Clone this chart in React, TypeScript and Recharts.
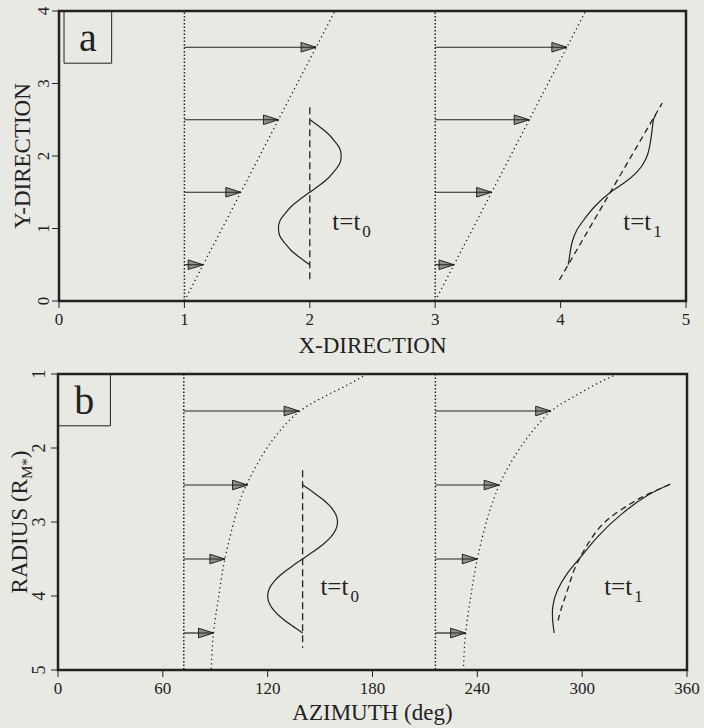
import React from 'react';
import { ScatterChart, Scatter, XAxis, YAxis, ReferenceArea } from 'recharts';

const INK = '#222222';
const BG = '#e9e9e4';
const FONT = "'Liberation Serif', 'Times New Roman', 'DejaVu Serif', serif";

// ---------- Panel a ----------
const aXTicks = [0, 1, 2, 3, 4, 5];
const aYTicks = [0, 1, 2, 3, 4];
const aArrowY = [0.5, 1.5, 2.5, 3.5];
const aArrowBase1 = 1;
const aArrowTips1 = [1.15, 1.45, 1.75, 2.05];
const aArrowBase2 = 3;
const aArrowTips2 = [3.15, 3.45, 3.75, 4.05];
const aVert1 = [{ x: 1, y: 0 }, { x: 1, y: 4 }];
const aVert2 = [{ x: 3, y: 0 }, { x: 3, y: 4 }];
const aFront1 = [{ x: 1, y: 0 }, { x: 2.2, y: 4 }];
const aFront2 = [{ x: 3, y: 0 }, { x: 4.2, y: 4 }];
const aT0Dashed = [{ x: 2, y: 0.3 }, { x: 2, y: 2.7 }];
const aT0Solid = [
  { x: 2.0, y: 0.5 }, { x: 1.92, y: 0.6 }, { x: 1.85, y: 0.7 }, { x: 1.8, y: 0.8 },
  { x: 1.76, y: 0.9 }, { x: 1.75, y: 1.0 }, { x: 1.76, y: 1.1 }, { x: 1.8, y: 1.2 },
  { x: 1.85, y: 1.3 }, { x: 1.92, y: 1.4 }, { x: 2.0, y: 1.5 }, { x: 2.08, y: 1.6 },
  { x: 2.15, y: 1.7 }, { x: 2.2, y: 1.8 }, { x: 2.24, y: 1.9 }, { x: 2.25, y: 2.0 },
  { x: 2.24, y: 2.1 }, { x: 2.2, y: 2.2 }, { x: 2.15, y: 2.3 }, { x: 2.08, y: 2.4 },
  { x: 2.0, y: 2.5 },
];
const aT1Dashed = [{ x: 3.99, y: 0.29 }, { x: 4.81, y: 2.73 }];
const aT1Solid = [
  { x: 4.06, y: 0.5 }, { x: 4.07, y: 0.6 }, { x: 4.09, y: 0.8 }, { x: 4.13, y: 0.98 },
  { x: 4.19, y: 1.13 }, { x: 4.27, y: 1.3 }, { x: 4.39, y: 1.49 }, { x: 4.5, y: 1.62 },
  { x: 4.61, y: 1.78 }, { x: 4.68, y: 1.96 }, { x: 4.71, y: 2.13 }, { x: 4.73, y: 2.36 },
  { x: 4.74, y: 2.5 }, { x: 4.76, y: 2.57 },
];
const aLabels = [
  { x: 2.18, y: 0.98, sub: '0' },
  { x: 4.5, y: 0.98, sub: '1' },
];

// ---------- Panel b ----------
const bXTicks = [0, 60, 120, 180, 240, 300, 360];
const bYTicks = [1, 2, 3, 4, 5];
const bArrowR = [1.5, 2.5, 3.5, 4.5];
const bArrowBase1 = 72;
const bArrowTips1 = [138, 108.5, 95.5, 89];
const bArrowBase2 = 216;
const bArrowTips2 = [282, 252.5, 240, 233.3];
const bVert1 = [{ x: 72, y: 1 }, { x: 72, y: 5 }];
const bVert2 = [{ x: 216, y: 1 }, { x: 216, y: 5 }];
const bFront1 = [
  { x: 176.8, y: 1.0 }, { x: 165.5, y: 1.15 }, { x: 152.1, y: 1.31 }, { x: 138.5, y: 1.5 },
  { x: 127.3, y: 1.76 }, { x: 117.7, y: 2.07 }, { x: 108.8, y: 2.45 }, { x: 104.3, y: 2.7 },
  { x: 101.2, y: 2.95 }, { x: 95.5, y: 3.5 }, { x: 92, y: 4.0 }, { x: 89, y: 4.5 },
  { x: 87.7, y: 5.0 },
];
const bFront2 = [
  { x: 320.2, y: 1.0 }, { x: 306.9, y: 1.15 }, { x: 293.5, y: 1.33 }, { x: 282.2, y: 1.5 },
  { x: 272.0, y: 1.76 }, { x: 262.5, y: 2.07 }, { x: 253.5, y: 2.45 }, { x: 248.5, y: 2.75 },
  { x: 245.5, y: 2.97 }, { x: 240, y: 3.5 }, { x: 236.3, y: 4.0 }, { x: 233.3, y: 4.5 },
  { x: 232, y: 5.0 },
];
const bT0Dashed = [{ x: 140, y: 2.3 }, { x: 140, y: 4.7 }];
const bT0Solid = [
  { x: 140, y: 2.5 }, { x: 146.2, y: 2.6 }, { x: 151.8, y: 2.7 }, { x: 156.2, y: 2.8 },
  { x: 159.0, y: 2.9 }, { x: 160, y: 3.0 }, { x: 159.0, y: 3.1 }, { x: 156.2, y: 3.2 },
  { x: 151.8, y: 3.3 }, { x: 146.2, y: 3.4 }, { x: 140, y: 3.5 }, { x: 133.8, y: 3.6 },
  { x: 128.2, y: 3.7 }, { x: 123.8, y: 3.8 }, { x: 121.0, y: 3.9 }, { x: 120, y: 4.0 },
  { x: 121.0, y: 4.1 }, { x: 123.8, y: 4.2 }, { x: 128.2, y: 4.3 }, { x: 133.8, y: 4.4 },
  { x: 140, y: 4.5 },
];
const bT1Solid = [
  { x: 350.4, y: 2.49 }, { x: 337.5, y: 2.64 }, { x: 322.2, y: 2.9 }, { x: 308.8, y: 3.2 },
  { x: 299.2, y: 3.47 }, { x: 291.6, y: 3.69 }, { x: 285.9, y: 3.92 }, { x: 283.2, y: 4.14 },
  { x: 283.2, y: 4.35 }, { x: 284, y: 4.5 },
];
const bT1Dashed = [
  { x: 350.4, y: 2.49 }, { x: 338, y: 2.62 }, { x: 327.9, y: 2.75 }, { x: 314.5, y: 2.97 },
  { x: 305.9, y: 3.2 }, { x: 300.2, y: 3.42 }, { x: 295.4, y: 3.65 }, { x: 291.6, y: 3.92 },
  { x: 287.8, y: 4.19 }, { x: 285.9, y: 4.37 },
];
const bLabels = [
  { x: 150.2, y: 3.99, sub: '0' },
  { x: 312.6, y: 3.99, sub: '1' },
];

// ---------- helpers ----------
const shafts = (ys: number[], base: number, tips: number[]) =>
  ys.map((y, i) => [{ x: base, y }, { x: tips[i], y }]);
const heads = (ys: number[], tips: number[]) => ys.map((y, i) => ({ x: tips[i], y }));

const Empty = () => <g />;

const ArrowHead = (props: any) => {
  const { cx, cy } = props;
  if (cx == null || cy == null) return <g />;
  const L = 15;
  const H = 4.8;
  return (
    <g>
      <polygon
        points={`${cx},${cy} ${cx - L},${cy - H} ${cx - L},${cy + H}`}
        fill="#8f8f8c"
        stroke={INK}
        strokeWidth={1}
      />
      <line x1={cx - L} y1={cy} x2={cx} y2={cy} stroke={INK} strokeWidth={1} />
    </g>
  );
};

const TLabel = (props: any) => {
  const { cx, cy, payload } = props;
  if (cx == null || cy == null) return <g />;
  return (
    <text x={cx} y={cy} style={{ fontFamily: FONT }} fontSize={25} fill={INK}>
      t=t
      <tspan fontSize={17} dx={2} dy={7}>
        {payload ? payload.sub : ''}
      </tspan>
    </text>
  );
};

const makeRotTick = (dx: number, fs: number) => (props: any) => {
  const { x, y, payload } = props;
  const X = x + dx;
  return (
    <text
      x={X}
      y={y}
      transform={`rotate(-90 ${X} ${y})`}
      textAnchor="middle"
      style={{ fontFamily: FONT }}
      fontSize={fs}
      fill={INK}
    >
      {payload.value}
    </text>
  );
};

const dottedV = { stroke: INK, strokeWidth: 1.5, strokeDasharray: '1.4 2.1', fill: 'none' };
const dottedD = { stroke: INK, strokeWidth: 1.3, strokeDasharray: '1.3 3.2', fill: 'none' };
const solid = { stroke: INK, strokeWidth: 1.2, fill: 'none' };
const dashed = { stroke: INK, strokeWidth: 1.3, strokeDasharray: '7 4', fill: 'none' };

const lineSeries = (data: any[], style: any, key: string, joint: any = 'linear') => (
  <Scatter
    key={key}
    data={data}
    line={style}
    lineJointType={joint}
    shape={Empty}
    isAnimationActive={false}
  />
);

export default function App() {
  const aShafts = [...shafts(aArrowY, aArrowBase1, aArrowTips1), ...shafts(aArrowY, aArrowBase2, aArrowTips2)];
  const aHeads = [...heads(aArrowY, aArrowTips1), ...heads(aArrowY, aArrowTips2)];
  const bShafts = [...shafts(bArrowR, bArrowBase1, bArrowTips1), ...shafts(bArrowR, bArrowBase2, bArrowTips2)];
  const bHeads = [...heads(bArrowR, bArrowTips1), ...heads(bArrowR, bArrowTips2)];

  return (
    <div
      style={{
        position: 'absolute',
        left: 0,
        top: 0,
        width: 704,
        height: 728,
        background: BG,
        fontFamily: FONT,
      }}
    >
      <div style={{ position: 'absolute', left: 0, top: 0 }}>
        <ScatterChart width={704} height={360} margin={{ top: 11, right: 18, bottom: 0, left: 0 }}>
          <XAxis
            type="number"
            dataKey="x"
            domain={[0, 5]}
            ticks={aXTicks}
            height={59}
            axisLine={false}
            tickSize={7}
            tickMargin={5}
            tickLine={{ stroke: INK, strokeWidth: 1 }}
            tick={{ fill: INK, fontSize: 17, style: { fontFamily: FONT } }}
            label={{
              content: (p: any) => {
                const vb = p.viewBox || { x: 59, y: 301, width: 627 };
                return (
                  <text x={vb.x + vb.width / 2} y={vb.y + 52} textAnchor="middle" style={{ fontFamily: FONT }} fontSize={23} fill={INK}>
                    X-DIRECTION
                  </text>
                );
              },
            }}
          />
          <YAxis
            type="number"
            dataKey="y"
            domain={[0, 4]}
            ticks={aYTicks}
            width={59}
            axisLine={false}
            tickSize={7}
            tickMargin={3}
            tickLine={{ stroke: INK, strokeWidth: 1 }}
            tick={makeRotTick(0, 17)}
            label={{
              content: (p: any) => {
                const vb = p.viewBox || { x: 0, y: 11, height: 290 };
                const cy = vb.y + vb.height / 2;
                return (
                  <text x={30} y={cy} transform={`rotate(-90 30 ${cy})`} textAnchor="middle" style={{ fontFamily: FONT }} fontSize={23} fill={INK}>
                    Y-DIRECTION
                  </text>
                );
              },
            }}
          />
          {lineSeries(aVert1, dottedV, 'av1')}
          {lineSeries(aVert2, dottedV, 'av2')}
          {lineSeries(aFront1, dottedD, 'af1')}
          {lineSeries(aFront2, dottedD, 'af2')}
          {aShafts.map((s, i) => lineSeries(s, solid, 'as' + i))}
          <Scatter data={aHeads} shape={ArrowHead} isAnimationActive={false} />
          {lineSeries(aT0Dashed, dashed, 'at0d')}
          {lineSeries(aT0Solid, solid, 'at0s', 'natural')}
          {lineSeries(aT1Dashed, { ...dashed, strokeDasharray: '6 4' }, 'at1d')}
          {lineSeries(aT1Solid, solid, 'at1s', 'natural')}
          <Scatter data={aLabels} shape={TLabel} isAnimationActive={false} />
          <ReferenceArea
            x1={0.04}
            x2={0.42}
            y1={3.28}
            y2={4}
            fill="none"
            stroke={INK}
            strokeWidth={1}
            label={{ value: 'a', position: 'center', fontSize: 40, fill: INK, style: { fontFamily: FONT } }}
          />
          <ReferenceArea x1={0} x2={5} y1={0} y2={4} fill="none" stroke={INK} strokeWidth={2.5} />
        </ScatterChart>
      </div>

      <div style={{ position: 'absolute', left: 0, top: 363 }}>
        <ScatterChart width={704} height={365} margin={{ top: 11, right: 17, bottom: 0, left: 0 }}>
          <XAxis
            type="number"
            dataKey="x"
            domain={[0, 360]}
            ticks={bXTicks}
            height={58}
            axisLine={false}
            tickSize={7}
            tickMargin={5}
            tickLine={{ stroke: INK, strokeWidth: 1 }}
            tick={{ fill: INK, fontSize: 17, style: { fontFamily: FONT } }}
            label={{
              content: (p: any) => {
                const vb = p.viewBox || { x: 58, y: 670, width: 629 };
                return (
                  <text x={vb.x + vb.width / 2} y={vb.y + 50} textAnchor="middle" style={{ fontFamily: FONT }} fontSize={23} fill={INK}>
                    AZIMUTH (deg)
                  </text>
                );
              },
            }}
          />
          <YAxis
            type="number"
            dataKey="y"
            domain={[1, 5]}
            ticks={bYTicks}
            reversed
            width={58}
            axisLine={false}
            tickSize={7}
            tickMargin={6}
            tickLine={{ stroke: INK, strokeWidth: 1 }}
            tick={makeRotTick(0, 18)}
            label={{
              content: (p: any) => {
                const vb = p.viewBox || { x: 0, y: 11, height: 296 };
                const cy = vb.y + vb.height / 2;
                return (
                  <text x={27} y={cy} transform={`rotate(-90 27 ${cy})`} textAnchor="middle" style={{ fontFamily: FONT }} fontSize={23} fill={INK}>
                    RADIUS (R
                    <tspan fontSize={15} dy={5}>M*</tspan>
                    <tspan dy={-5}>)</tspan>
                  </text>
                );
              },
            }}
          />
          {lineSeries(bVert1, dottedV, 'bv1')}
          {lineSeries(bVert2, dottedV, 'bv2')}
          {lineSeries(bFront1, dottedD, 'bf1', 'natural')}
          {lineSeries(bFront2, dottedD, 'bf2', 'natural')}
          {bShafts.map((s, i) => lineSeries(s, solid, 'bs' + i))}
          <Scatter data={bHeads} shape={ArrowHead} isAnimationActive={false} />
          {lineSeries(bT0Dashed, dashed, 'bt0d')}
          {lineSeries(bT0Solid, solid, 'bt0s', 'natural')}
          {lineSeries(bT1Dashed, { ...dashed, strokeDasharray: '6 4' }, 'bt1d', 'natural')}
          {lineSeries(bT1Solid, solid, 'bt1s', 'natural')}
          <Scatter data={bLabels} shape={TLabel} isAnimationActive={false} />
          <ReferenceArea
            x1={0}
            x2={30}
            y1={1}
            y2={1.7}
            fill="none"
            stroke={INK}
            strokeWidth={1}
            label={{ value: 'b', position: 'center', fontSize: 40, fill: INK, style: { fontFamily: FONT } }}
          />
          <ReferenceArea x1={0} x2={360} y1={1} y2={5} fill="none" stroke={INK} strokeWidth={2.5} />
        </ScatterChart>
      </div>
    </div>
  );
}
